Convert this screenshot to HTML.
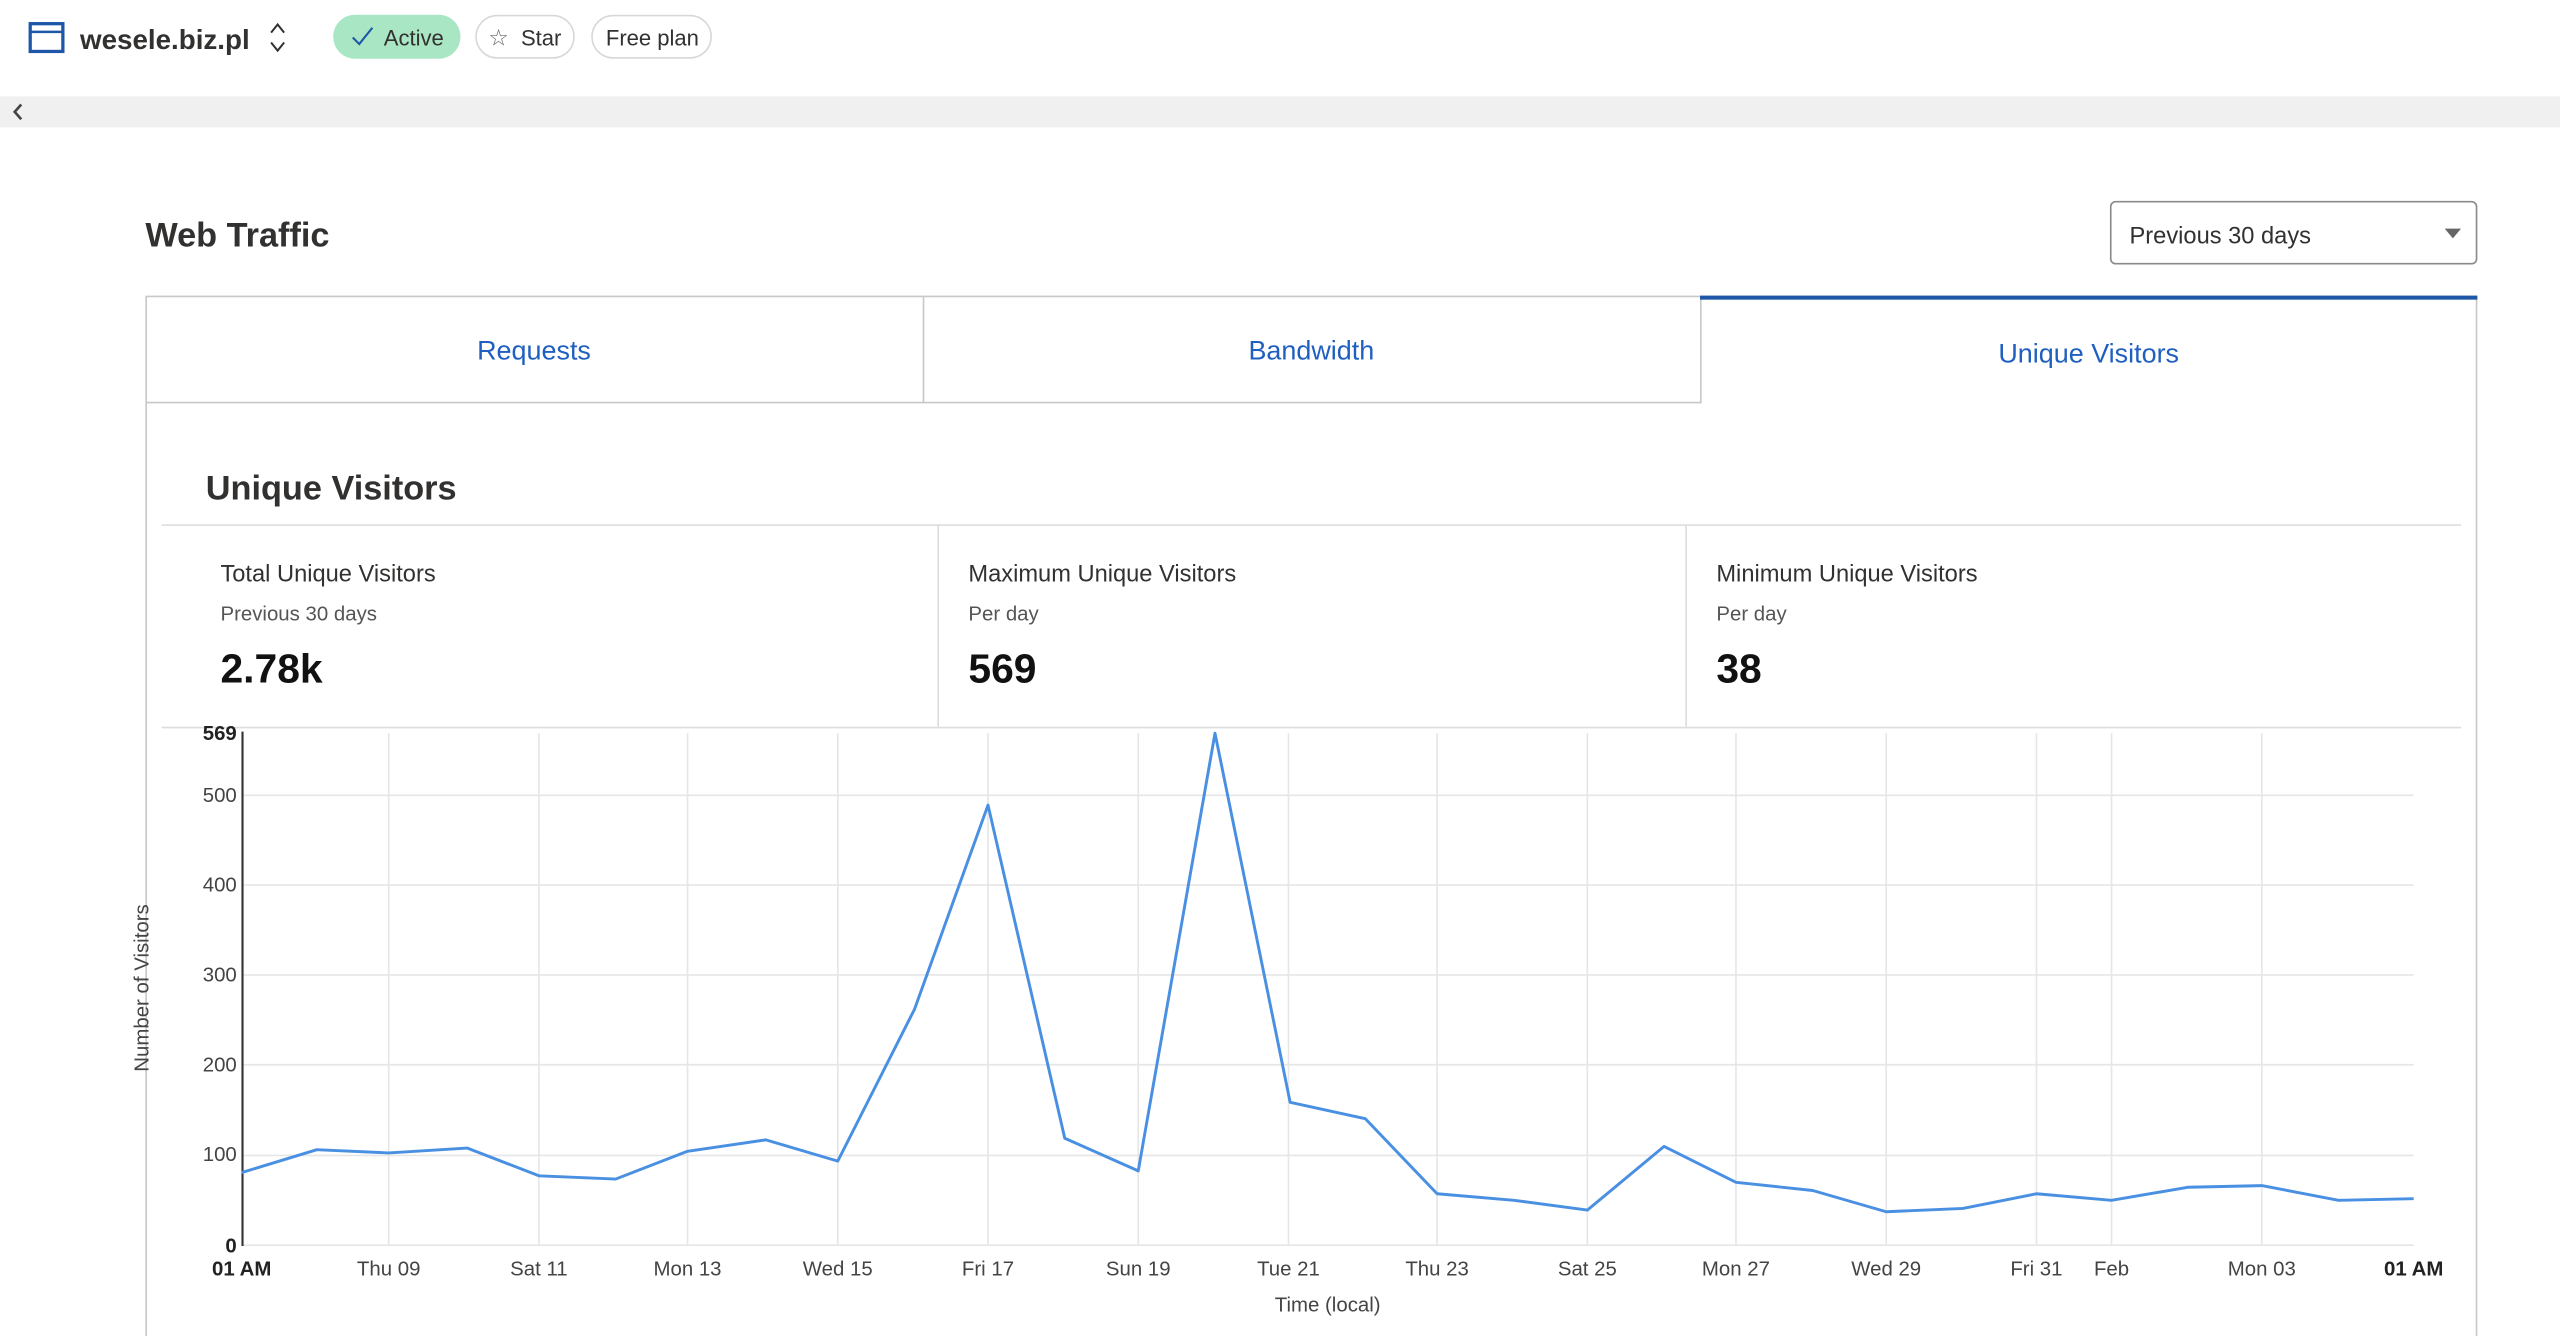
<!DOCTYPE html>
<html><head><meta charset="utf-8"><style>html,body{margin:0;padding:0;background:#fff;width:2560px;height:1336px;overflow:hidden}svg{display:block}text{font-family:"Liberation Sans",sans-serif}</style></head>
<body>
<svg width="2560" height="1336" viewBox="0 0 1567.6 818.1" preserveAspectRatio="none" xmlns="http://www.w3.org/2000/svg">
<rect width="1568" height="819" fill="#fff"/>
<!-- header -->
<rect x="18.5" y="14.5" width="20" height="17" fill="none" stroke="#1f57a8" stroke-width="2"/>
<line x1="18.5" y1="19.5" x2="38.5" y2="19.5" stroke="#1f57a8" stroke-width="1.5"/>
<text x="49" y="30" font-size="17" font-weight="bold" fill="#323130">wesele.biz.pl</text>
<path d="M166 20 L170 15 L174 20 M166 26 L170 31 L174 26" fill="none" stroke="#323130" stroke-width="1.2"/>
<rect x="204" y="9" width="78" height="27" rx="13.5" fill="#a8e6c4"/>
<path d="M216 23 L220 27 L228 17" fill="none" stroke="#1f57a8" stroke-width="1.3"/>
<text x="235" y="28" font-size="13.5" fill="#323130">Active</text>
<rect x="291.5" y="9.5" width="60" height="26" rx="13" fill="#fff" stroke="#d8d8d8"/>
<text x="299" y="28" font-size="14" fill="#666">☆</text>
<text x="319" y="28" font-size="13.5" fill="#323130">Star</text>
<rect x="362.5" y="9.5" width="73" height="26" rx="13" fill="#fff" stroke="#d8d8d8"/>
<text x="371" y="28" font-size="13.5" fill="#323130">Free plan</text>
<rect x="0" y="59" width="1568" height="19" fill="#f0f0f0"/>
<path d="M13 64 L9 68.5 L13 73" fill="none" stroke="#444" stroke-width="1.6"/>
<!-- title -->
<text x="89" y="151" font-size="21" font-weight="bold" fill="#323130">Web Traffic</text>
<rect x="1292.5" y="123.5" width="224" height="38" rx="3" fill="#fff" stroke="#8a8a8a"/>
<text x="1304" y="149" font-size="14.5" fill="#323130">Previous 30 days</text>
<path d="M1497 140 L1507 140 L1502 146 Z" fill="#666"/>
<!-- tabs -->
<path d="M89.5 818 L89.5 181.5 L1041 181.5" fill="none" stroke="#c8c8c8"/>
<path d="M89.5 246.5 L1041.5 246.5 L1041.5 181.5" fill="none" stroke="#c8c8c8"/>
<line x1="565.5" y1="181.5" x2="565.5" y2="246.5" stroke="#c8c8c8"/>
<line x1="1516.5" y1="182" x2="1516.5" y2="818" stroke="#c8c8c8"/>
<rect x="1041" y="181" width="476" height="2.5" fill="#1f57a8"/>
<text x="327" y="220" font-size="16.5" fill="#1f5fbf" text-anchor="middle">Requests</text>
<text x="803" y="220" font-size="16.5" fill="#1f5fbf" text-anchor="middle">Bandwidth</text>
<text x="1279" y="222" font-size="16.5" fill="#1f5fbf" text-anchor="middle">Unique Visitors</text>
<!-- section -->
<text x="126" y="306" font-size="21" font-weight="bold" fill="#323130">Unique Visitors</text>
<line x1="99" y1="321.5" x2="1507" y2="321.5" stroke="#ddd"/>
<line x1="99" y1="445.5" x2="1507" y2="445.5" stroke="#ddd"/>
<line x1="574.5" y1="321" x2="574.5" y2="445" stroke="#ddd"/>
<line x1="1032.5" y1="321" x2="1032.5" y2="445" stroke="#ddd"/>
<g fill="#323130">
<text x="135" y="356" font-size="14.5">Total Unique Visitors</text>
<text x="135" y="380" font-size="12.5" fill="#555">Previous 30 days</text>
<text x="135" y="418" font-size="25" font-weight="bold" fill="#111">2.78k</text>
<text x="593" y="356" font-size="14.5">Maximum Unique Visitors</text>
<text x="593" y="380" font-size="12.5" fill="#555">Per day</text>
<text x="593" y="418" font-size="25" font-weight="bold" fill="#111">569</text>
<text x="1051" y="356" font-size="14.5">Minimum Unique Visitors</text>
<text x="1051" y="380" font-size="12.5" fill="#555">Per day</text>
<text x="1051" y="418" font-size="25" font-weight="bold" fill="#111">38</text>
</g>
<!-- chart grid -->
<g stroke="#e6e6e6" stroke-width="1">
<line x1="148" y1="487" x2="1478" y2="487"/>
<line x1="148" y1="542" x2="1478" y2="542"/>
<line x1="148" y1="597" x2="1478" y2="597"/>
<line x1="148" y1="652" x2="1478" y2="652"/>
<line x1="148" y1="707.5" x2="1478" y2="707.5"/>
<line x1="148" y1="762.5" x2="1478" y2="762.5"/>
<line x1="238" y1="449" x2="238" y2="762"/><line x1="330" y1="449" x2="330" y2="762"/>
<line x1="421" y1="449" x2="421" y2="762"/><line x1="513" y1="449" x2="513" y2="762"/>
<line x1="605" y1="449" x2="605" y2="762"/><line x1="697" y1="449" x2="697" y2="762"/>
<line x1="789" y1="449" x2="789" y2="762"/><line x1="880" y1="449" x2="880" y2="762"/>
<line x1="972" y1="449" x2="972" y2="762"/><line x1="1063" y1="449" x2="1063" y2="762"/>
<line x1="1155" y1="449" x2="1155" y2="762"/><line x1="1247" y1="449" x2="1247" y2="762"/>
<line x1="1293" y1="449" x2="1293" y2="762"/><line x1="1385" y1="449" x2="1385" y2="762"/>
</g>
<line x1="148.5" y1="448" x2="148.5" y2="763" stroke="#333" stroke-width="1.3"/>
<g font-size="12.5" fill="#444" text-anchor="end">
<text x="145" y="453" font-weight="bold" fill="#222">569</text>
<text x="145" y="491">500</text><text x="145" y="546">400</text><text x="145" y="601">300</text>
<text x="145" y="656">200</text><text x="145" y="711">100</text>
<text x="145" y="767" font-weight="bold" fill="#222">0</text>
</g>
<g font-size="12.5" fill="#444" text-anchor="middle">
<text x="148" y="781" font-weight="bold" fill="#222">01 AM</text>
<text x="238" y="781">Thu 09</text><text x="330" y="781">Sat 11</text><text x="421" y="781">Mon 13</text>
<text x="513" y="781">Wed 15</text><text x="605" y="781">Fri 17</text><text x="697" y="781">Sun 19</text>
<text x="789" y="781">Tue 21</text><text x="880" y="781">Thu 23</text><text x="972" y="781">Sat 25</text>
<text x="1063" y="781">Mon 27</text><text x="1155" y="781">Wed 29</text><text x="1247" y="781">Fri 31</text>
<text x="1293" y="781">Feb</text><text x="1385" y="781">Mon 03</text>
<text x="1478" y="781" font-weight="bold" fill="#222">01 AM</text>
<text x="813" y="803">Time (local)</text>
</g>
<text transform="translate(91,605) rotate(-90)" font-size="12.5" fill="#444" text-anchor="middle">Number of Visitors</text>
<polyline fill="none" stroke="#4a90e2" stroke-width="1.8" stroke-linejoin="round" points="148,718 194,704 238,706 286,703 330,720 377,722 421,705 469,698 513,711 560,618 605,493 652,697 697,717 744,449 790,675 836,685 880,731 927,735 972,741 1019,702 1063,724 1110,729 1155,742 1202,740 1247,731 1293,735 1340,727 1385,726 1432,735 1478,734"/>
</svg>
</body></html>
